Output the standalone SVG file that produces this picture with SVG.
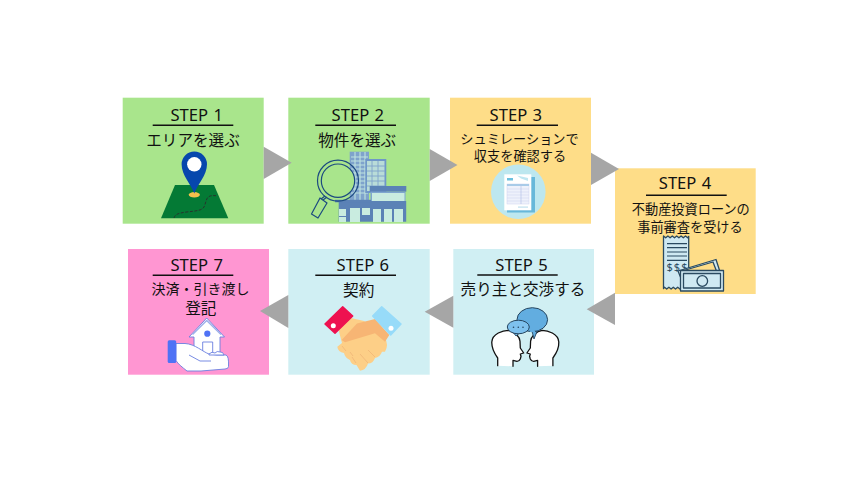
<svg xmlns="http://www.w3.org/2000/svg" width="850" height="480" viewBox="0 0 850 480">
<style>
text{font-family:"Noto Sans CJK JP","Noto Sans",sans-serif;fill:#111;text-anchor:middle;font-weight:400}
.st{font-family:"Noto Sans","Noto Sans CJK JP",sans-serif;font-size:16.6px;font-weight:450;word-spacing:1px}
.j1{font-size:15.6px}
.j2{font-size:13.2px}
.ul{stroke:#111;stroke-width:1.6;fill:none}
.arr{fill:#a6a6a6}
.g{fill:#a9e58c}.y{fill:#fedd88}.b{fill:#d0eff3}.p{fill:#ff96d2}
.wb{fill:#7fa3cc}.mb{fill:#5b82b6}.gl{fill:#c9ece0}
.k{fill:#fff;stroke:#111;stroke-width:1.3;stroke-linejoin:round;stroke-linecap:round}
.n{stroke:#2a4a60;stroke-width:1.3;stroke-linejoin:round}
.hl{stroke:#f0b677;stroke-width:.8;fill:none}
</style>
<g id="step1">
<rect class="g" x="122.7" y="97.7" width="141" height="126"/>
<text class="st" x="196.7" y="120.7">STEP 1</text>
<path class="ul" d="M152.7 125.3H233.3"/>
<text class="j1" x="193" y="146">エリアを選ぶ</text>
<polygon points="175,185 214,185 228.3,218.3 161,218.3" fill="#047a35"/>
<ellipse cx="194.3" cy="194.8" rx="5.6" ry="2.7" fill="#f5c04d"/>
<path d="M194.3 193.5C191 184 181.6 175.5 181.6 164.3A12.7 12.7 0 0 1 207 164.3C207 175.5 197.6 184 194.3 193.5Z" fill="#0647ad"/>
<circle cx="194.3" cy="164.3" r="7.2" fill="#fff"/>
<path d="M174 218C175 214 179 213 188 211.8C196 211 202 210.5 204 207C206 203 206 198 209 196.5C211 195.5 213 195.5 216 195.7" fill="none" stroke="#2b2b2b" stroke-width=".9" stroke-dasharray="3 1.5"/>
</g>
<g id="step2">
<rect class="g" x="288.3" y="97.7" width="141.4" height="126"/>
<text class="st" x="357.8" y="120.7">STEP 2</text>
<path class="ul" d="M315.3 125.3H396"/>
<text class="j1" x="357.2" y="146">物件を選ぶ</text>
<rect class="wb" x="349.7" y="151.7" width="19.3" height="50"/>
<path d="M351 157H368M351 161H368M351 165H368M351 169H368M351 173H368M351 177H368M351 181H368M351 185H368M351 189H368M351 193H368M355 152V200M360 152V200M365 152V200" stroke="#bfe3df" stroke-width="1.1"/>
<rect x="365.3" y="159" width="21" height="34" fill="#6f97c8"/>
<rect x="367" y="161" width="17.5" height="30" fill="#b9dcd8"/>
<path d="M367 166H385M367 171H385M367 176H385M367 181H385M367 186H385M372 161V191M378 161V191" stroke="#7fa3cc" stroke-width=".9"/>
<rect class="mb" x="369.7" y="186" width="36.6" height="5.7"/>
<rect x="370.5" y="191.7" width="35" height="10.5" fill="#7fa6cf"/>
<rect x="372" y="193" width="32.5" height="8" class="gl"/>
<rect class="mb" x="338.7" y="201" width="67.500" height="20.7"/>
<rect class="mb" x="335" y="199.8" width="36" height="2.500"/>
<rect class="gl" x="339" y="209" width="7" height="7"/>
<rect class="gl" x="339" y="217" width="7" height="5"/>
<rect class="gl" x="350" y="208" width="10" height="14"/>
<rect class="gl" x="362" y="208" width="8" height="7"/>
<rect class="gl" x="373" y="209" width="8" height="13"/>
<rect class="gl" x="384" y="209" width="8" height="13"/>
<rect class="gl" x="394" y="209" width="9" height="13"/>
<circle cx="338" cy="180.7" r="20.5" fill="none" stroke="#1c4a80" stroke-width="1.2"/>
<circle cx="338" cy="180.7" r="16.7" fill="#a9e58c" stroke="#1c4a80" stroke-width="1.2"/>
<path d="M327 197L323 200M325 196L321 199" stroke="#1c4a80" stroke-width="1.2"/>
<polygon points="320,198 327,203 318,218 311.5,214" fill="#a9e58c" stroke="#1c4a80" stroke-width="1.2" stroke-linejoin="round"/>
</g>
<g id="step3">
<rect class="y" x="450" y="97.7" width="141" height="126"/>
<text class="st" x="515.8" y="120.7">STEP 3</text>
<path class="ul" d="M476.7 125.3H558"/>
<text class="j2" x="519.5" y="143.5">シュミレーションで</text>
<text class="j2" x="520" y="160.5">収支を確認する</text>
<circle cx="518.3" cy="191.7" r="27.3" fill="#bde7ef"/>
<rect x="507" y="177" width="28" height="35.5" fill="#67b8da"/>
<rect x="504.3" y="174.3" width="27" height="36" fill="#fff"/>
<rect x="507" y="178" width="6" height="2.5" fill="#6cc0de"/>
<path d="M517 175.5L528 178V181L521 178.5Z" fill="#bfe6f1"/>
<rect x="507" y="184" width="22" height="20" fill="#eef1fb" stroke="#ccd3ee" stroke-width=".5"/>
<rect x="507" y="184" width="22" height="2" fill="#a8cbe8"/>
<path d="M507 189H529M507 192H529M507 195H529M507 198H529M507 201H529" stroke="#d0d7f0" stroke-width=".6"/>
<path d="M521 184V204" stroke="#b6c3e8" stroke-width=".7"/>
<rect x="518" y="206.5" width="10" height="1.2" fill="#bfe0ee"/>
</g>
<g id="step4">
<rect class="y" x="615" y="168.3" width="140.7" height="125.7"/>
<text class="st" x="685" y="189">STEP 4</text>
<path class="ul" d="M646 195.3H726.7"/>
<text class="j2" x="690.8" y="213.5">不動産投資ローンの</text>
<text class="j2" x="690" y="231.5">事前審査を受ける</text>
<path class="n" d="M663.5 236l2.2 1.8 2.2-1.8 2.2 1.8 2.2-1.8 2.2 1.8 2.2-1.8 2.2 1.8 2.2-1.8 2.2 1.8 2.2-1.8 2.2 1.8 1 -1.4V289l-2.2-1.8-2.2 1.8-2.2-1.8-2.2 1.8-2.2-1.8-2.2 1.8-2.2-1.8-2.2 1.8-2.2-1.8-2.2 1.8-2.2-1.8-1 1.4Z" fill="#cfe9f2" stroke-width="1"/>
<path d="M667 243.7H687M667 247.7H687M667 252H687M667 256H687M667 260.3H687" stroke="#2a4a60" stroke-width="1.2"/>
<text x="677.500" y="271" style="font-family:'Noto Sans',sans-serif;font-size:11px;font-weight:400;fill:#2a4a60;letter-spacing:1px">$$$</text>
<polygon class="n" points="678,271 716,259.500 722,278 685,288" fill="#cfe9f2"/>
<polygon class="n" points="682,271 713,262 718,275 686,283" fill="#fedd88" stroke-width=".8"/>
<rect class="n" x="680.5" y="270.5" width="43" height="20.5" fill="#cfe9f2"/>
<rect class="n" x="683.5" y="273.5" width="37" height="14.5" fill="#cfe9f2" stroke-width="1"/>
<circle class="n" cx="702.3" cy="281" r="5.3" fill="#cfe9f2"/>
</g>
<g id="step5">
<rect class="b" x="453.3" y="249" width="140.7" height="125.7"/>
<text class="st" x="521.5" y="271">STEP 5</text>
<path class="ul" d="M477.3 275H557.7"/>
<text class="j1" x="523" y="295.3">売り主と交渉する</text>
<path class="k" d="M497.700 365.700V358C494 353 491.500 348 491.800 342C492 338 494.500 335 498.300 333C502 331 505 330.300 508.300 330.300C511.500 330.500 514.500 332.500 516.700 334.700C518.500 336.500 520 339 520 341.300L520.300 348L523.700 353L520.300 354L521 356.300L520.300 359C519.500 360.800 518.500 361.300 517 361.300L513 360.300V366.300"/>
<path class="k" d="M552.900 365.700V358C556.600 353 559.100 348 558.800 342C558.600 338 556.100 335 552.300 333C548.600 331 545.600 330.300 542.300 330.300C539.100 330.500 536.100 332.500 533.900 334.700C532.100 336.500 530.600 339 530.600 341.300L530.300 348L526.900 353L530.300 354L529.600 356.300L530.300 359C531.100 360.800 532.100 361.300 533.600 361.300L537.600 360.300V366.300"/>
<path d="M532 331L534 339L537 331.500Z" fill="#62ade0" stroke="#26455f" stroke-width=".9"/>
<ellipse cx="532.300" cy="319.700" rx="15.300" ry="12" fill="#62ade0" stroke="#26455f" stroke-width="1"/>
<path d="M530 331.300L535 331.500" stroke="#62ade0" stroke-width="1.300"/>
<path d="M513 332L516 336L519 333.500Z" fill="#7ec1ee" stroke="#26455f" stroke-width=".9"/>
<ellipse cx="518.300" cy="327" rx="11" ry="6.800" fill="#7ec1ee" stroke="#26455f" stroke-width="1"/>
<circle cx="513.500" cy="327.300" r=".8" fill="#26455f"/><circle cx="518.300" cy="327.300" r=".8" fill="#26455f"/><circle cx="523" cy="327.300" r=".8" fill="#26455f"/>
</g>
<g id="step6">
<rect class="b" x="288.300" y="249" width="141.400" height="125.700"/>
<text class="st" x="362.800" y="271">STEP 6</text>
<path class="ul" d="M315.300 275.300H396"/>
<text class="j1" x="358.700" y="296">契約</text>
<path d="M338 328L351 318L364 321L385 338Q389 345 385 351.700H382Q380 357 375 358Q373 363.500 368 363.500Q366 370 360 370.700L356.500 365Q351 365 350 360Q345 358 344 353Q338 352 337.300 346.700L342 343Z" fill="#fdcf87"/>
<path class="hl" d="M368 350L375 357M360 354L368 363M352 357L356 363M342 346L346 351M350 352L353 356"/>
<path d="M341.700 340L357 323.500L375 319L389.300 335L385 341.700L375 333.300L345 342.300Z" fill="#f7b574"/>
<polygon points="325,324 342.700,306.700 352.700,316 335,333.300" fill="#ee1150" stroke="#ee1150" stroke-linejoin="round" stroke-width="1.500"/>
<circle cx="333.300" cy="325.700" r="2.500" fill="#fff"/>
<polygon points="372.700,316 381.700,306.700 401,324 390.700,335" fill="#97dbf9" stroke="#97dbf9" stroke-linejoin="round" stroke-width="1.500"/>
<circle cx="391" cy="328.300" r="2.500" fill="#fff"/>
</g>
<g id="step7">
<rect class="p" x="128" y="249" width="141" height="125.700"/>
<text class="st" x="196.700" y="271">STEP 7</text>
<path class="ul" d="M152.700 275.300H233.300"/>
<text class="j2" x="200.500" y="293.800" style="font-size:14px">決済・引き渡し</text>
<text class="j1" x="200.800" y="314">登記</text>
<g stroke="#6a7fe0" stroke-width=".9" stroke-linejoin="round">
<polygon points="189,337 206.700,318 224.500,337 220,337 220,354 194,354 194,337" fill="#fff"/>
<path d="M192.500 334.500L206.700 320.500L221 334.500" fill="none" stroke="#9fb0ea" stroke-width="1.500"/>
<rect x="202.700" y="342" width="10" height="13" fill="#fff"/>
<path d="M176 343.500H185C195 344 203 352 209 354L217 355H226Q229 356 228.500 366.500Q228.500 368.800 225 369L201 371H187C182 367 178 364 176 360.500Z" fill="#fff"/>
<path d="M209 354Q212 351 215 353Q217 350.500 220 352Q223 351.500 224 355H209Z" fill="#fff"/>
<path d="M189 355L200 361H211" fill="none"/>
</g>
<circle cx="207.300" cy="333.700" r="3.100" fill="#4f72f5"/>
<rect x="167.700" y="340.300" width="8.500" height="22.700" rx="1.500" fill="#4f72f5"/>
</g>
<g id="connectors">
<polygon class="arr" points="263.7,146.7 291.7,162.7 263.7,179"/>
<polygon class="arr" points="429.7,149 457.5,165 429.7,181"/>
<polygon class="arr" points="591,152.7 619,169 591,185"/>
<polygon class="arr" points="615,292.7 586.7,309.3 615,325"/>
<polygon class="arr" points="453.3,295.7 424.7,311.7 453.3,327.7"/>
<polygon class="arr" points="288.3,295 260,311 288.3,328"/>
</g>
</svg>
